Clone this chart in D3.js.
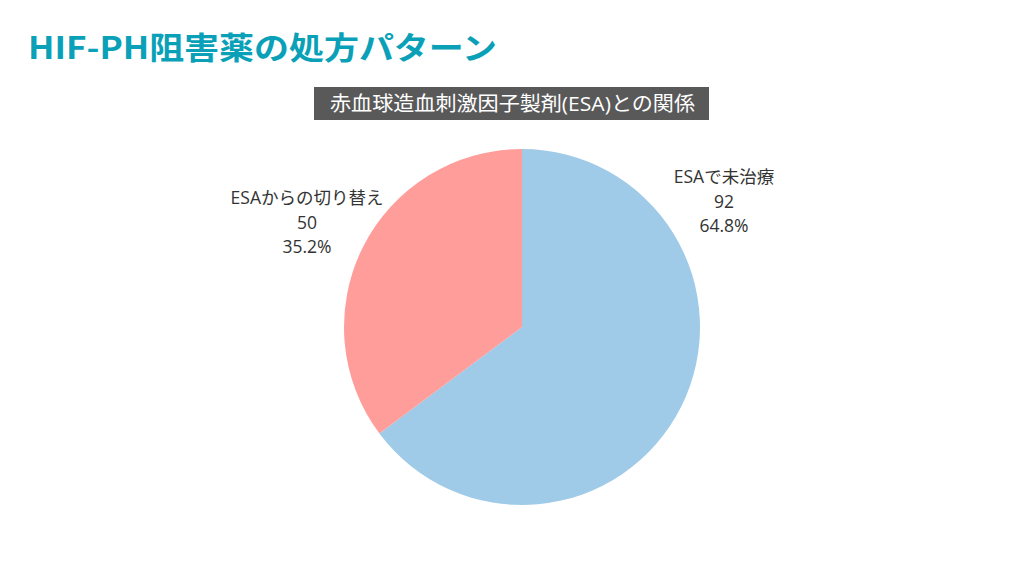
<!DOCTYPE html>
<html><head><meta charset="utf-8">
<script src="https://cdn.jsdelivr.net/npm/d3@7"></script>
<style>body{margin:0;background:#fff;} svg{display:block;}</style>
</head><body>
<script>
const categories = ["ESAで未治療", "ESAからの切り替え"];
const values = [92, 50];
const percents = ["64.8%", "35.2%"];
const colors = ["#a0cbe8", "#ff9d9a"];
const title = "HIF-PH阻害薬の処方パターン";
const subtitle = "赤血球造血刺激因子製剤(ESA)との関係";

const W = 1025, H = 576;
const svg = d3.select("body").append("svg").attr("width", W).attr("height", H);
const font = "'Noto Sans CJK JP', 'Noto Sans', sans-serif";
const lfont = "'Open Sans', 'Noto Sans CJK JP', sans-serif";

svg.append("text").attr("x", 28).attr("y", 59).text(title)
  .attr("font-family", font).attr("font-weight", 700).attr("font-size", 31)
  .attr("textLength", 469).attr("lengthAdjust", "spacingAndGlyphs")
  .attr("fill", "#0aa1b8");

svg.append("rect").attr("x", 314).attr("y", 87).attr("width", 395).attr("height", 33).attr("fill", "#595959");
svg.append("text").attr("x", 330).attr("y", 111).text(subtitle)
  .attr("font-family", lfont).attr("font-size", 20).attr("fill", "#ffffff")
  .attr("textLength", 365).attr("lengthAdjust", "spacingAndGlyphs");

const cx = 522, cy = 327, r = 178;
const pie = d3.pie().sort(null).value(d => d)(values);
const arc = d3.arc().innerRadius(0).outerRadius(r);
const g = svg.append("g").attr("transform", `translate(${cx},${cy})`);
g.selectAll("path").data(pie).join("path").attr("d", arc).attr("fill", (d, i) => colors[i]);

const labelPos = [[202, -144], [-215, -123]];
pie.forEach((d, i) => {
  const t = g.append("text").attr("text-anchor", "middle")
    .attr("font-family", lfont).attr("font-size", 17.5).attr("fill", "#333333");
  [categories[i], String(values[i]), percents[i]].forEach((s, j) => {
    t.append("tspan").attr("x", labelPos[i][0]).attr("y", labelPos[i][1] + j * 24.5).text(s);
  });
});
</script>
</body></html>
